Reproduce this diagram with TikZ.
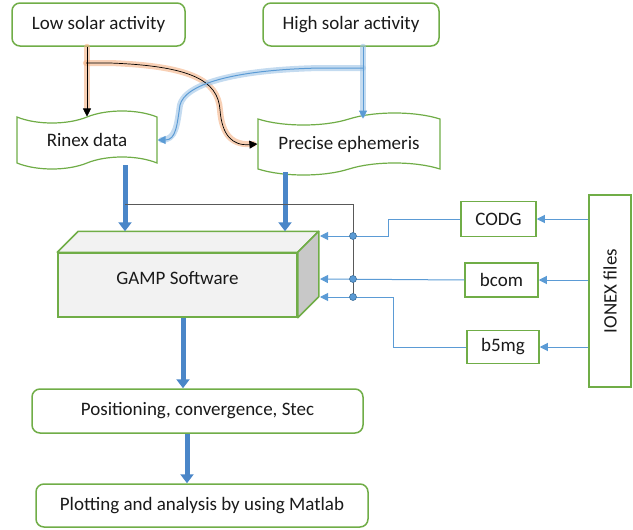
\documentclass[tikz,border=0pt]{standalone}
\usepackage{fontspec}
\setmainfont{Carlito}
\usetikzlibrary{shapes.symbols,arrows.meta}
\definecolor{grn}{HTML}{70AD47}
\definecolor{blu}{HTML}{5B9BD5}
\definecolor{bluD}{HTML}{41719C}
\definecolor{thickc}{HTML}{4A86C8}
\definecolor{glowO}{HTML}{F4B183}
\definecolor{glowB}{HTML}{9DC3E6}
\definecolor{facec}{HTML}{F2F2F2}
\definecolor{sidec}{HTML}{C8C8C8}
\definecolor{txt}{HTML}{1A1A1A}
\begin{document}
\begin{tikzpicture}[x=1pt,y=-1pt,
 font=\fontsize{19}{22}\selectfont, text=txt,
 rbox/.style={draw=grn,line width=1.5pt,rounded corners=8pt,fill=white,inner sep=0pt},
 sbox/.style={draw=grn,line width=1.5pt,fill=white,inner sep=0pt},
 tbox/.style={tape,draw=grn,line width=1.2pt,fill=white,inner sep=0pt,tape bend height=12pt},
 fat/.style={draw=thickc,line width=5pt,-{Triangle[width=13pt,length=9pt]}},
 thinb/.style={draw=blu,line width=1pt,-{Triangle[width=8pt,length=8pt]}},
 jdot/.style={circle,fill=blu,draw=bluD,line width=0.6pt,inner sep=0pt,minimum size=7pt},
 glowo/.style={draw=glowO,line width=6pt,opacity=0.6,line cap=round,line join=round},
 glowb/.style={draw=glowB,line width=6pt,opacity=0.6,line cap=round,line join=round},
]
\useasboundingbox (0,0) rectangle (633,530);

% nodes
\node[rbox,minimum width=173pt,minimum height=43pt] (low) at (98.5,24.5) {Low solar activity};
\node[rbox,minimum width=176pt,minimum height=43pt] (high) at (351,24.5) {High solar activity};
\node[tbox,minimum width=140pt,minimum height=58pt] (rinex) at (87,140) {Rinex data};
\node[tbox,minimum width=182pt,minimum height=62pt] (prec) at (349,144) {Precise ephemeris};

\node[sbox,fill=facec,minimum width=239pt,minimum height=64pt,label={[yshift=7pt]center:GAMP Software}] (gamp) at (177.5,285) {};
\coordinate (gtl) at ([shift={(21,-21)}]gamp.north west);
\coordinate (gtr) at ([shift={(21,-21)}]gamp.north east);
\coordinate (gbr) at ([shift={(21,-21)}]gamp.south east);
\filldraw[fill=facec,draw=grn,line width=1.5pt,line join=round] (gamp.north west) -- (gtl) -- (gtr) -- (gamp.north east) -- cycle;
\filldraw[fill=sidec,draw=grn,line width=1.5pt,line join=round] (gamp.north east) -- (gtr) -- (gbr) -- (gamp.south east) -- cycle;

\node[sbox,minimum width=75pt,minimum height=35pt] (codg) at (498.5,219) {CODG};
\node[sbox,minimum width=73pt,minimum height=34pt] (bcom) at (501.5,280) {bcom};
\node[sbox,minimum width=72pt,minimum height=33pt] (b5mg) at (503,347) {b5mg};
\node[sbox,minimum width=42pt,minimum height=192pt,label={[rotate=90]center:IONEX files}] (ionex) at (610,291) {};

\node[rbox,minimum width=331pt,minimum height=44pt] (pos) at (197.5,411) {Positioning, convergence, Stec};
\node[rbox,minimum width=332pt,minimum height=43pt] (plot) at (202,505.5) {Plotting and analysis by using Matlab};

% solar activity connectors
\coordinate (lb) at (86,63);
\coordinate (hb) at (363,68);
\path[glowo] (low.south -| rinex.north) -- ([yshift=6pt]rinex.north);
\path[glowo] (lb) -- (110,63) .. controls (190,66) and (218,80) .. (220,110) .. controls (222,135) and (232,146) .. ([xshift=-4pt]prec.west);
\path[glowb] (high.south -| hb) -- ([yshift=4pt]hb |- prec.north);
\path[glowb] (hb) -- (320,68) .. controls (230,70) and (185,85) .. (180,105) .. controls (177,125) and (176,140) .. ([xshift=4pt]rinex.east);

\draw[black,line width=0.7pt,-{Triangle[width=8pt,length=8pt]}] (low.south -| rinex.north) -- (rinex.north);
\draw[black,line width=0.7pt,-{Triangle[width=8pt,length=8pt]}] (lb) -- (110,63) .. controls (190,66) and (218,80) .. (220,110) .. controls (222,135) and (232,146) .. (prec.west);
\draw[blu,line width=1pt,-{Triangle[width=8pt,length=8pt]}] (high.south -| hb) -- (hb |- prec.north);
\draw[blu,line width=1pt,-{Triangle[width=8pt,length=8pt]}] (hb) -- (320,68) .. controls (230,70) and (185,85) .. (180,105) .. controls (177,125) and (176,140) .. (rinex.east);

% thick flow arrows
\coordinate (ra) at (125,165);
\coordinate (pa) at (285,172);
\draw[fat] (ra) -- (ra |- gtl);
\draw[fat] (pa) -- (pa |- gtl);
\draw[fat] (gamp.south -| 183,0) -- (pos.north -| 183,0);
\draw[fat] (pos.south -| 187,0) -- (plot.north -| 187,0);

% gray line and junctions
\coordinate (g0) at (125,204);
\coordinate (g1) at (353,204);
\draw[black!65,line width=1pt] (g0) -- (g1) -- (353,298);

\coordinate (e1) at (320,236);
\coordinate (e2) at (320,279);
\coordinate (e3) at (320,297);
\draw[thinb] (codg.west) -- (388,219) -- (388,236) -- (e1);
\draw[thinb] (bcom.west) -- (e2);
\draw[thinb] (b5mg.west) -- (393,347) -- (393,297) -- (e3);
\node[jdot] (d1) at (353,236) {};
\node[jdot] (d2) at (353,279) {};
\node[jdot] (d3) at (353,297) {};

\draw[thinb] (ionex.west |- codg.east) -- (codg.east);
\draw[thinb] (ionex.west |- bcom.east) -- (bcom.east);
\draw[thinb] (ionex.west |- b5mg.east) -- (b5mg.east);
\end{tikzpicture}
\end{document}
